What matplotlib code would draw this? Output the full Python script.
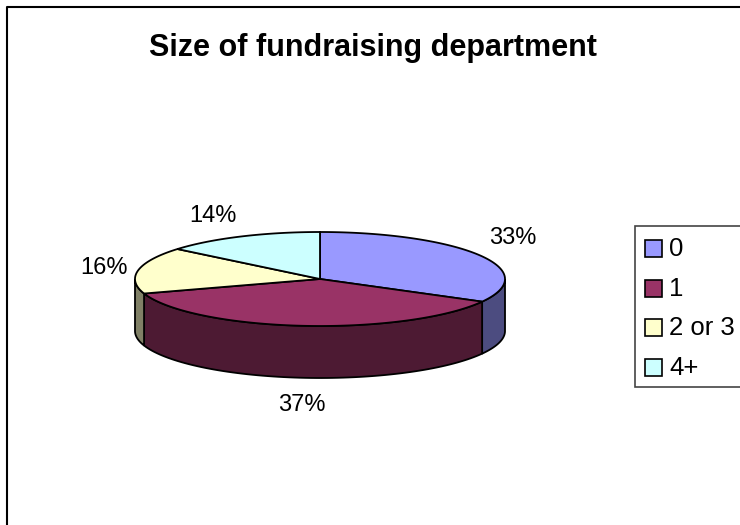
import numpy as np
import matplotlib
matplotlib.use("Agg")
import matplotlib.pyplot as plt
from matplotlib.patches import Polygon, Rectangle

plt.rcParams["font.family"] = ["Liberation Sans", "DejaVu Sans"]

title = "Size of fundraising department"
categories = ["0", "1", "2 or 3", "4+"]
values = [33, 37, 16, 14]
top_colors = ["#9999FF", "#993366", "#FFFFCC", "#CCFFFF"]
side_colors = ["#4C4C80", "#4D1A33", "#808066", "#668080"]

# pie geometry in pixels (image coords, y down)
cx, cy = 320, 279
rx, ry = 185, 47
depth = 52


def ell(theta):
    # theta clockwise from 12 o'clock, degrees
    t = np.radians(theta)
    return cx + rx * np.sin(t), cy - ry * np.cos(t)


fig = plt.figure(figsize=(7.4, 5.25), dpi=100)
ax = fig.add_axes([0, 0, 1, 1])
ax.set_xlim(0, 740)
ax.set_ylim(525, 0)
ax.axis("off")

# chart frame
ax.plot([7, 7, 745], [530, 7, 7], color="black", lw=1.5, solid_capstyle="butt")

total = sum(values)
bounds = np.concatenate([[0], np.cumsum(values) / total * 360])

# side walls (only front half visible: 90..270)
for i in range(len(values)):
    lo, hi = max(bounds[i], 90), min(bounds[i + 1], 270)
    if hi <= lo:
        continue
    th = np.linspace(lo, hi, 80)
    xs, ys = ell(th)
    pts = np.column_stack([np.r_[xs, xs[::-1]], np.r_[ys, ys[::-1] + depth]])
    ax.add_patch(Polygon(pts, closed=True, fc=side_colors[i], ec="black", lw=1.3, zorder=2))

# top faces
for i in range(len(values)):
    th = np.linspace(bounds[i], bounds[i + 1], 120)
    xs, ys = ell(th)
    pts = np.column_stack([np.r_[cx, xs], np.r_[cy, ys]])
    ax.add_patch(Polygon(pts, closed=True, fc=top_colors[i], ec="black", lw=1.3, zorder=3))

# percentage labels
gap = 11
for i, v in enumerate(values):
    mid = (bounds[i] + bounds[i + 1]) / 2
    s, c = np.sin(np.radians(mid)), np.cos(np.radians(mid))
    x, y = ell(mid)
    if c < 0:
        y += depth + 5
    x += gap * s
    y -= gap * c
    ha = "left" if s > 0.3 else ("right" if s < -0.3 else "center")
    va = "bottom" if c > 0.3 else ("top" if c < -0.3 else "center")
    ax.text(x, y, f"{v / total * 100:.0f}%", ha=ha, va=va, fontsize=17, zorder=4)

# title
ax.text(373, 48, title, ha="center", va="center", fontsize=22, fontweight="bold")

# legend
ax.add_patch(Rectangle((635, 226), 120, 161, fc="white", ec="#444444", lw=1.2, zorder=4))
leg_y = np.linspace(249, 368, len(categories))
for i, lab in enumerate(categories):
    ax.add_patch(Rectangle((645, leg_y[i] - 9), 17, 17, fc=top_colors[i], ec="black", lw=1.2, zorder=5))
    ax.text(669, leg_y[i], lab, ha="left", va="center", fontsize=18.5, zorder=5)

fig.savefig("out.png", dpi=100)
